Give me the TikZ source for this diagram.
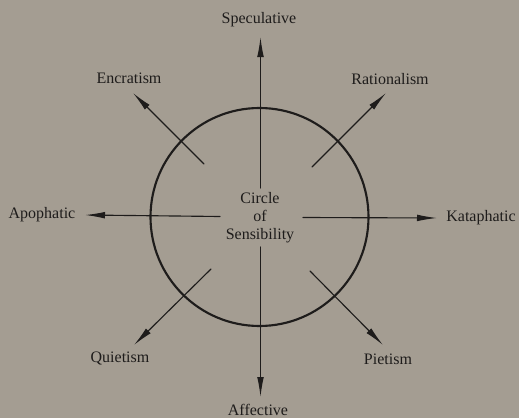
\documentclass[tikz,border=0pt]{standalone}
\usepackage{fontspec}
\setmainfont{Liberation Serif}
\usetikzlibrary{arrows.meta}
\definecolor{paper}{RGB}{164,157,146}
\definecolor{ink}{RGB}{30,28,27}

\begin{document}
\begin{tikzpicture}[
    % 以图片像素为单位，y 轴向下
    x=0.75pt,
    y=-0.75pt,
    >={Latex[length=15pt,width=5pt]},
    line cap=round,
    line join=round,
    every node/.style={font=\fontsize{12}{13.5}\selectfont, text=ink},
    ring/.style={draw=ink, line width=1.6pt},
    ray/.style={->, draw=ink, line width=0.85pt},
  ]

  % 背景与边界
  \fill[paper] (0,0) rectangle (519,418);
  \useasboundingbox (0,0) rectangle (519,418);

  % 圆心与圆
  \coordinate (C) at (259.5,217);
  \draw[ring] (C) circle[radius=109];
  \node[align=center, inner sep=0pt] (mid) at (260,218) {Circle\\of\\Sensibility};

  % 内端点
  \coordinate (inN)  at (260.5,188);
  \coordinate (inS)  at (260.5,247);
  \coordinate (inW)  at (220,216.5);
  \coordinate (inE)  at (303,217.5);
  \coordinate (inNW) at (204,164);
  \coordinate (inNE) at (312,167);
  \coordinate (inSW) at (211,269);
  \coordinate (inSE) at (310,271);

  % 箭头尖端
  \coordinate (tipN)  at (260.5,37);
  \coordinate (tipS)  at (260.5,397);
  \coordinate (tipW)  at (85,215);
  \coordinate (tipE)  at (437,218);
  \coordinate (tipNW) at (133,93);
  \coordinate (tipNE) at (386,93);
  \coordinate (tipSW) at (134,345);
  \coordinate (tipSE) at (383,345);

  % 八个方向
  \draw[ray] (inN)  -- (tipN);
  \draw[ray] (inS)  -- (tipS);
  \draw[ray] (inW)  -- (tipW);
  \draw[ray] (inE)  -- (tipE);
  \draw[ray] (inNW) -- (tipNW);
  \draw[ray] (inNE) -- (tipNE);
  \draw[ray] (inSW) -- (tipSW);
  \draw[ray] (inSE) -- (tipSE);

  % 标注
  \node (spec) at (259,20)  {Speculative};
  \node (affe) at (258,410) {Affective};
  \node (apo)  at (42,215)  {Apophatic};
  \node (kata) at (481,218) {Kataphatic};
  \node (encr) at (129,78)  {Encratism};
  \node (rati) at (390,79)  {Rationalism};
  \node (quie) at (120,358) {Quietism};
  \node (piet) at (388,359) {Pietism};

\end{tikzpicture}
\end{document}
